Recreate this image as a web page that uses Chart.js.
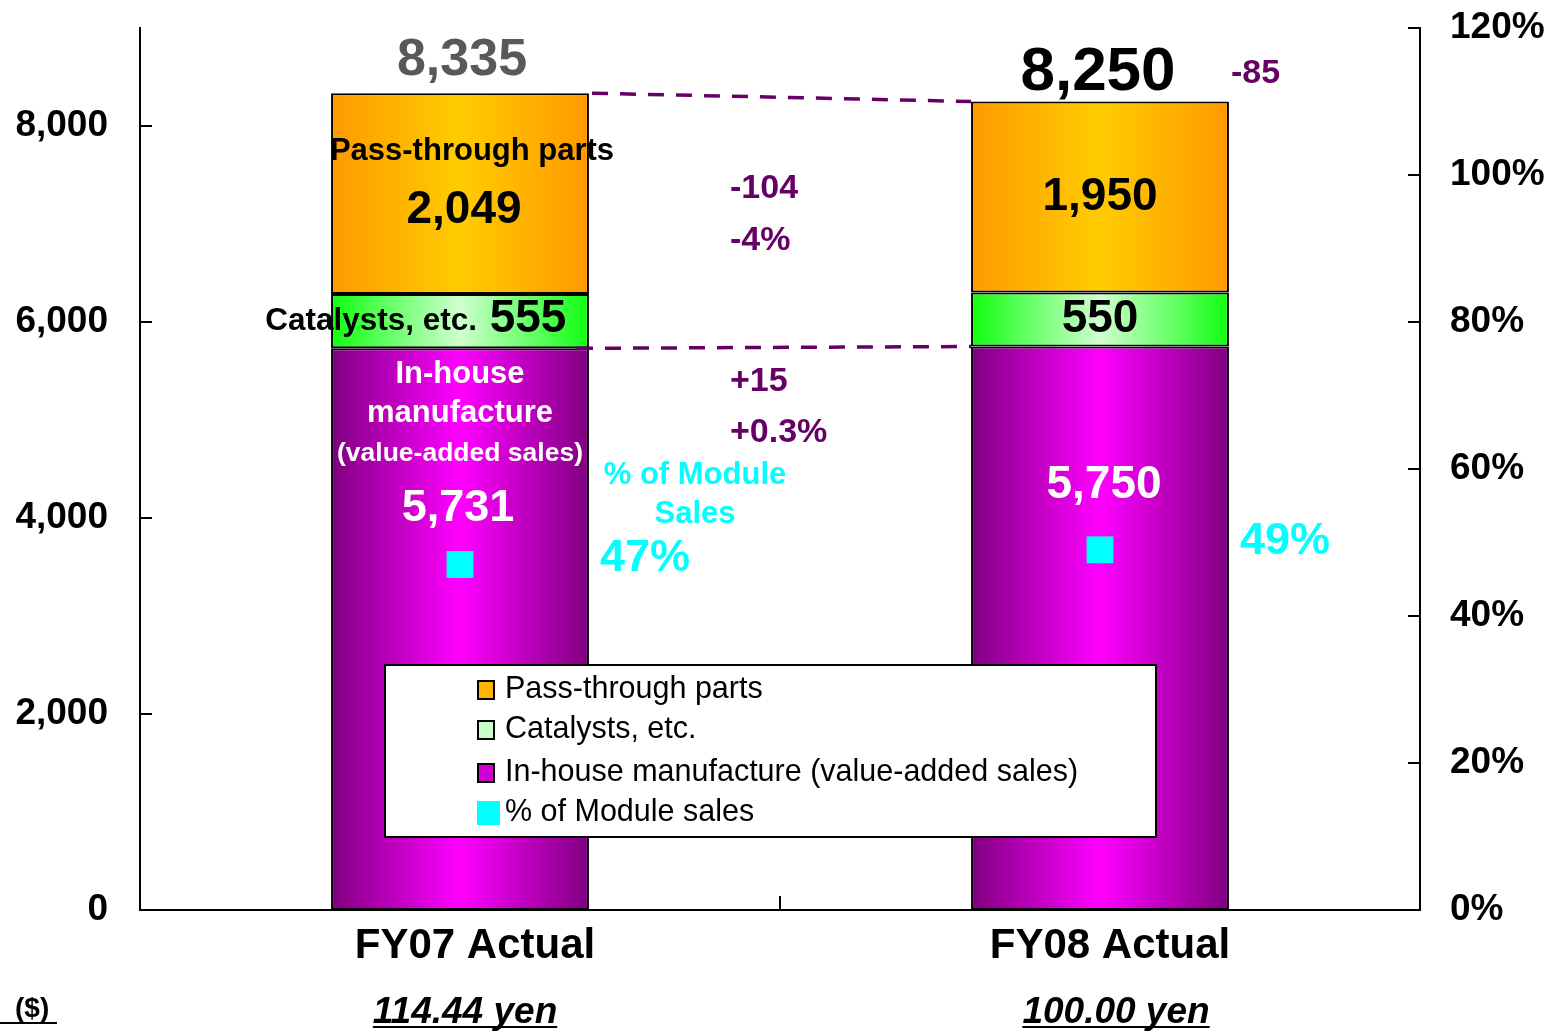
<!DOCTYPE html>
<html>
<head>
<meta charset="utf-8">
<script src="https://cdn.jsdelivr.net/npm/chart.js@4.4.1/dist/chart.umd.min.js"></script>
<style>
  html,body{margin:0;padding:0;background:#fff}
  #wrap{width:1552px;height:1031px;position:relative}
</style>
</head>
<body>
<div id="wrap"><canvas id="c"></canvas></div>
<script>
// --- data ---
const categories = ['FY07 Actual', 'FY08 Actual']
const exchangeRates = ['114.44 yen', '100.00 yen']
const inHouse = [5731, 5750]
const catalysts = [555, 550]
const passThrough = [2049, 1950]
const moduleShare = [47, 49]
const totalDiff = '-85'
const passDiff = ['-104', '-4%']
const inHouseDiff = ['+15', '+0.3%']
const yTicks = [0, 2000, 4000, 6000, 8000]
const pctTicks = [0, 20, 40, 60, 80, 100, 120]
const seriesNames = ['Pass-through parts', 'Catalysts, etc.', 'In-house manufacture (value-added sales)', '% of Module sales']

const totals = inHouse.map((v,i)=> v + catalysts[i] + passThrough[i])
const fmt = n => n.toLocaleString('en-US')

const FONT = "'Liberation Sans', Arial, sans-serif"
const PURPLE = '#660066'
const CYAN = '#00FFFF'
const BAR_PCT = 0.403

Chart.defaults.font.family = FONT
Chart.defaults.color = '#000'

// horizontal gradient across each bar
function hGrad(edge, mid){
  return c => {
    const chart = c.chart
    const area = chart.chartArea
    if(!area || !chart.scales.x) return mid
    const xs = chart.scales.x
    const cx = xs.getPixelForValue(c.dataIndex)
    const half = (xs.width / categories.length) * BAR_PCT / 2
    const g = chart.ctx.createLinearGradient(cx - half, 0, cx + half, 0)
    g.addColorStop(0, edge)
    g.addColorStop(0.5, mid)
    g.addColorStop(1, edge)
    return g
  }
}

function txt(ctx, s, x, y, font, color, align){
  ctx.font = font
  ctx.fillStyle = color
  ctx.textAlign = align || 'center'
  ctx.textBaseline = 'middle'
  ctx.fillText(s, x, y)
}

function underlined(ctx, s, x, y, font, color, uy){
  txt(ctx, s, x, y, font, color, 'center')
  const w = ctx.measureText(s).width
  ctx.fillRect(x - w/2, uy, w, 2)
}

const overlay = {
  id: 'overlay',
  afterDraw(chart){
    const ctx = chart.ctx
    const ys = chart.scales.y, xs = chart.scales.x
    const area = chart.chartArea
    const cx = categories.map((_,i)=> xs.getPixelForValue(i))
    ctx.save()

    // inward tick marks
    ctx.strokeStyle = '#000'
    ctx.lineWidth = 2
    ctx.beginPath()
    yTicks.forEach(v=>{
      if(v === 0) return
      const y = ys.getPixelForValue(v)
      ctx.moveTo(area.left, y); ctx.lineTo(area.left + 12, y)
    })
    pctTicks.forEach(v=>{
      if(v === 0) return
      const y = chart.scales.y1.getPixelForValue(v)
      ctx.moveTo(area.right, y); ctx.lineTo(area.right - 12, y)
    })
    const mid = (cx[0] + cx[1]) / 2
    ctx.moveTo(mid, area.bottom); ctx.lineTo(mid, area.bottom - 14)
    ctx.stroke()

    // dashed connectors
    const passMeta = chart.getDatasetMeta(3).data
    const inMeta = chart.getDatasetMeta(1).data
    ctx.strokeStyle = PURPLE
    ctx.lineWidth = 3.5
    ctx.setLineDash([16, 12])
    ctx.beginPath()
    ctx.moveTo(passMeta[0].x + passMeta[0].width/2 + 3, passMeta[0].y)
    ctx.lineTo(passMeta[1].x - passMeta[1].width/2, passMeta[1].y)
    ctx.moveTo(inMeta[0].x + inMeta[0].width/2 - 12, inMeta[0].y)
    ctx.lineTo(inMeta[1].x - inMeta[1].width/2, inMeta[1].y)
    ctx.stroke()
    ctx.setLineDash([])

    // totals
    txt(ctx, fmt(totals[0]), cx[0] + 2, ys.getPixelForValue(totals[0]) - 33, `bold 52px ${FONT}`, '#595959')
    txt(ctx, fmt(totals[1]), cx[1] - 2, ys.getPixelForValue(totals[1]) - 29, `bold 62px ${FONT}`, '#000')
    txt(ctx, totalDiff, passMeta[1].x + passMeta[1].width/2 + 2, 74, `bold 34px ${FONT}`, PURPLE, 'left')

    // FY07 segment labels
    txt(ctx, seriesNames[0], cx[0] + 12, 151, `bold 31px ${FONT}`, '#000')
    txt(ctx, fmt(passThrough[0]), cx[0] + 4, 210, `bold 46px ${FONT}`, '#000')
    txt(ctx, seriesNames[1], 477, 321, `bold 31.5px ${FONT}`, '#000', 'right')
    txt(ctx, fmt(catalysts[0]), 528, 319, `bold 46px ${FONT}`, '#000')
    txt(ctx, 'In-house', cx[0], 374, `bold 31px ${FONT}`, '#fff')
    txt(ctx, 'manufacture', cx[0], 413, `bold 31px ${FONT}`, '#fff')
    txt(ctx, '(value-added sales)', cx[0], 454, `bold 26.5px ${FONT}`, '#fff')
    txt(ctx, fmt(inHouse[0]), cx[0] - 2, 509, `bold 45px ${FONT}`, '#fff')

    // FY08 segment labels
    txt(ctx, fmt(passThrough[1]), cx[1], 197, `bold 46px ${FONT}`, '#000')
    txt(ctx, fmt(catalysts[1]), cx[1], 319, `bold 46px ${FONT}`, '#000')
    txt(ctx, fmt(inHouse[1]), cx[1] + 4, 485, `bold 46px ${FONT}`, '#fff')

    // differences
    txt(ctx, passDiff[0], 730, 189, `bold 34px ${FONT}`, PURPLE, 'left')
    txt(ctx, passDiff[1], 730, 241, `bold 34px ${FONT}`, PURPLE, 'left')
    txt(ctx, inHouseDiff[0], 730, 382, `bold 34px ${FONT}`, PURPLE, 'left')
    txt(ctx, inHouseDiff[1], 730, 433, `bold 34px ${FONT}`, PURPLE, 'left')

    // module share labels
    txt(ctx, '% of Module', 695, 475, `bold 31px ${FONT}`, CYAN)
    txt(ctx, 'Sales', 695, 514, `bold 31px ${FONT}`, CYAN)
    txt(ctx, moduleShare[0] + '%', 600, 559, `bold 45px ${FONT}`, CYAN, 'left')
    txt(ctx, moduleShare[1] + '%', 1240, 542, `bold 45px ${FONT}`, CYAN, 'left')

    // category labels and rates
    txt(ctx, categories[0], cx[0] + 15, 946, `bold 42px ${FONT}`, '#000')
    txt(ctx, categories[1], cx[1] + 10, 946, `bold 42px ${FONT}`, '#000')
    underlined(ctx, exchangeRates[0], cx[0] + 5, 1013, `italic bold 37px ${FONT}`, '#000', 1026)
    underlined(ctx, exchangeRates[1], cx[1] + 16, 1013, `italic bold 37px ${FONT}`, '#000', 1026)
    txt(ctx, '($)', 15, 1009, `bold 28px ${FONT}`, '#000', 'left')
    ctx.fillRect(0, 1022, 57, 2)

    // legend box
    ctx.fillStyle = '#fff'
    ctx.fillRect(385, 665, 771, 172)
    ctx.strokeStyle = '#000'
    ctx.lineWidth = 2
    ctx.strokeRect(385, 665, 771, 172)
    const rows = [690, 730, 773, 813]
    const marks = ['#FFB400', '#C8FFC8', '#D000D0']
    seriesNames.forEach((name,i)=>{
      const y = rows[i]
      if(i < 3){
        ctx.fillStyle = marks[i]
        ctx.fillRect(478, y - 9, 16, 18)
        ctx.strokeStyle = '#000'
        ctx.lineWidth = 2
        ctx.strokeRect(478, y - 9, 16, 18)
      } else {
        ctx.fillStyle = CYAN
        ctx.fillRect(477, y - 12, 23, 24)
      }
      txt(ctx, name, 505, y, `30.5px ${FONT}`, '#000', 'left')
    })
    ctx.restore()
  }
}

const barCommon = {
  borderColor: '#000',
  borderWidth: 2,
  borderSkipped: false,
  barPercentage: BAR_PCT,
  categoryPercentage: 1,
  yAxisID: 'y',
  order: 1
}

const noPad = s => { s.paddingTop = 0; s.paddingBottom = 0 }

new Chart(document.getElementById('c'), {
  type: 'bar',
  data: {
    labels: categories,
    datasets: [
      {
        type: 'line', label: seriesNames[3], data: moduleShare, yAxisID: 'y1',
        showLine: false, pointStyle: 'rect', pointRadius: 19, pointHoverRadius: 19,
        pointBackgroundColor: CYAN, pointBorderWidth: 0, order: 0
      },
      Object.assign({label: seriesNames[2], data: inHouse, backgroundColor: hGrad('#800080', '#FF00FF')}, barCommon),
      Object.assign({label: seriesNames[1], data: catalysts, backgroundColor: hGrad('#10FF10', '#D0FFD0')}, barCommon),
      Object.assign({label: seriesNames[0], data: passThrough, backgroundColor: hGrad('#FF9900', '#FFCC00')}, barCommon)
    ]
  },
  options: {
    responsive: true,
    maintainAspectRatio: false,
    animation: false,
    events: [],
    layout: {padding: {top: 28, left: 0, right: 0, bottom: 0}},
    plugins: {legend: {display: false}, tooltip: {enabled: false}},
    scales: {
      x: {
        stacked: true,
        grid: {display: false, drawTicks: false},
        border: {display: true, color: '#000', width: 2},
        ticks: {display: false},
        afterFit: s => { s.height = 121; s.paddingLeft = 0; s.paddingRight = 0 }
      },
      y: {
        position: 'left',
        stacked: true,
        min: 0, max: 9000,
        grid: {display: false, drawTicks: false},
        border: {display: true, color: '#000', width: 2},
        afterBuildTicks: s => { s.ticks = yTicks.map(v => ({value: v})) },
        ticks: {
          padding: 32,
          font: {family: FONT, size: 37, weight: 'bold'},
          color: '#000',
          callback: v => fmt(v)
        },
        afterFit: s => { s.width = 140; noPad(s) }
      },
      y1: {
        position: 'right',
        min: 0, max: 120,
        grid: {display: false, drawTicks: false},
        border: {display: true, color: '#000', width: 2},
        afterBuildTicks: s => { s.ticks = pctTicks.map(v => ({value: v})) },
        ticks: {
          padding: 30,
          font: {family: FONT, size: 37, weight: 'bold'},
          color: '#000',
          callback: v => v + '%'
        },
        afterFit: s => { s.width = 132; noPad(s) }
      }
    }
  },
  plugins: [overlay]
})
</script>
</body>
</html>
